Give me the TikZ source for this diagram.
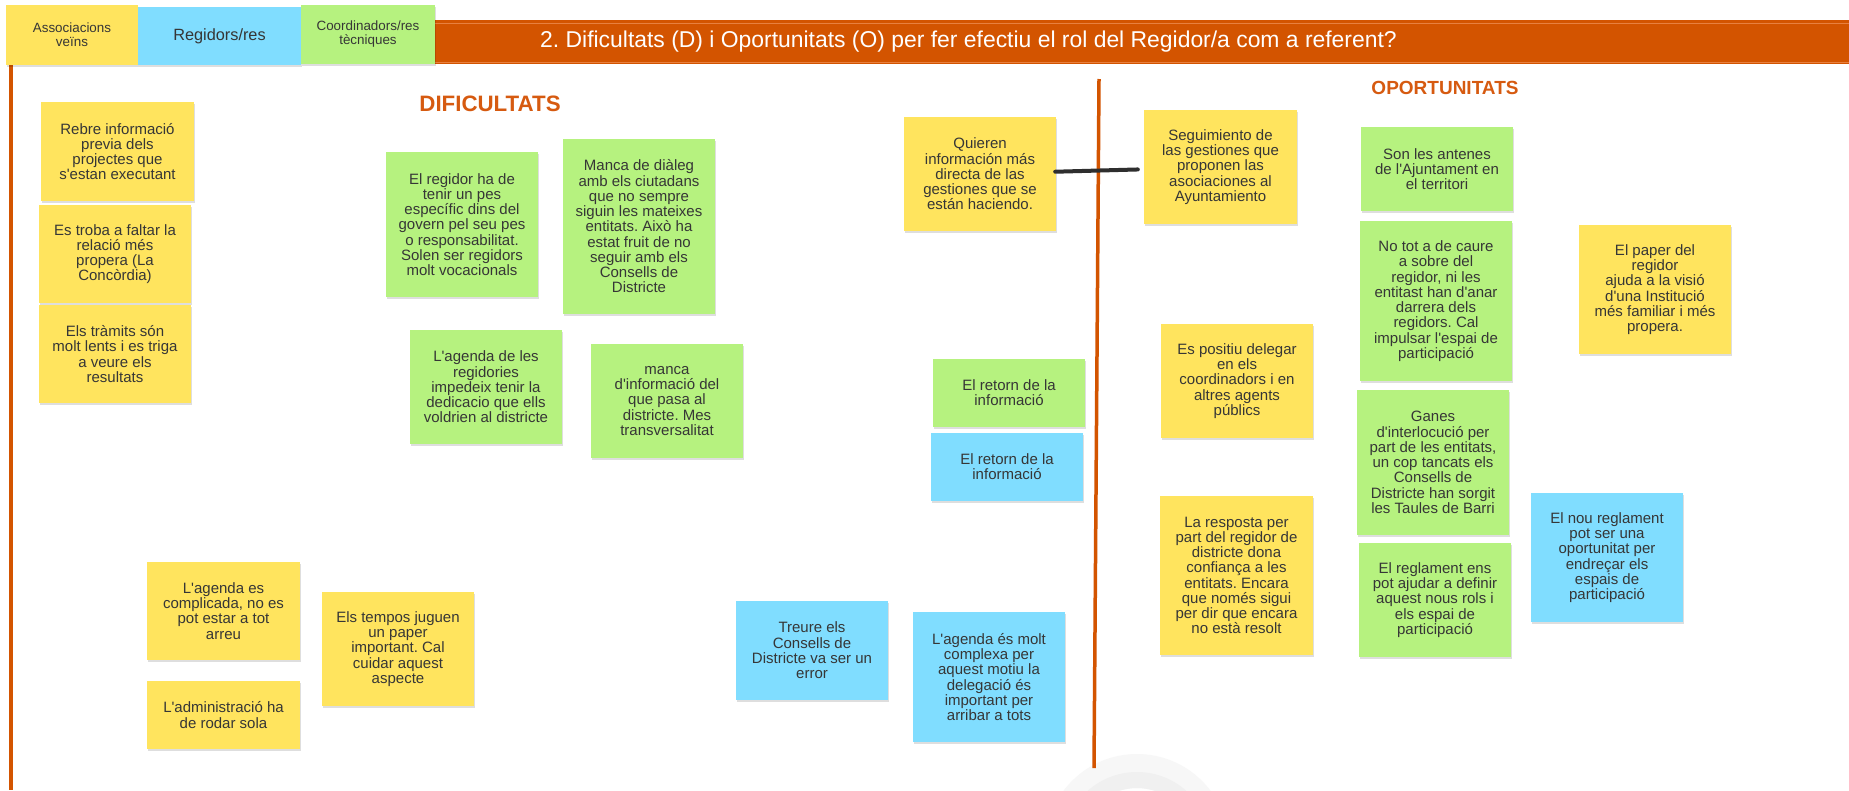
\documentclass[tikz,border=0pt]{standalone}
\usepackage{fontspec}
\setmainfont{Liberation Sans}
\usetikzlibrary{shadows,calc}
\definecolor{syellow}{HTML}{FFE45E}
\definecolor{sgreen}{HTML}{B6F27F}
\definecolor{sblue}{HTML}{80DDFF}
\definecolor{barorange}{HTML}{D35400}
\definecolor{barlight}{HTML}{E8803F}
\definecolor{titleorange}{HTML}{D65A10}
\definecolor{txt}{HTML}{363636}
\definecolor{connc}{HTML}{2E2E2E}
\newcommand{\ap}{\textquotesingle}
\tikzset{
  sticky/.style={inner sep=0pt, align=center, text=txt,
    font={\frenchspacing\fontsize{15}{15.25}\selectfont},
    drop shadow={shadow xshift=0.6pt, shadow yshift=-1.6pt, opacity=0.13, fill=black}},
  sz/.style 2 args={minimum width=#1pt, minimum height=#2pt},
  yel/.style={sticky, fill=syellow},
  grn/.style={sticky, fill=sgreen},
  blu/.style={sticky, fill=sblue},
  divider/.style={draw=barorange, line width=3.5pt},
  conn/.style={draw=connc, line width=4pt, line cap=round},
  heading/.style={text=titleorange, inner sep=0pt}
}
\begin{document}
\frenchspacing
\begin{tikzpicture}[x=1pt,y=-1pt]
\useasboundingbox (0,0) rectangle (1849,790);
\fill[white] (0,0) rectangle (1849,790);
% faint ring at the bottom
\begin{scope}
  \clip (0,0) rectangle (1849,790);
  \fill[black!3, even odd rule] (1137,846) circle[radius=92] (1137,846) circle[radius=58];
  \fill[black!6, even odd rule] (1137,846) circle[radius=74] (1137,846) circle[radius=58];
\end{scope}
% divider lines
\draw[divider] (11,65) -- (11,790);
\draw[divider] (1099,79) -- (1094,768);
% header bar
\fill[barorange] (435,20) rectangle (1849,63.5);
\draw[barlight, line width=0.8pt] (435,23.4) -- (1849,23.4);
\draw[barlight, line width=0.8pt] (435,62.6) -- (1849,62.6);
\node[text=white, inner sep=0pt, font={\fontsize{22.9}{26}\selectfont}] (title) at (968.5,42) {2. Dificultats (D) i Oportunitats (O) per fer efectiu el rol del Regidor/a com a referent?};
% header stickies
\node[yel, sz={132}{60}, font={\fontsize{13.4}{14}\selectfont}] (hassoc) at (72,35) {Associacions\\veïns};
\node[blu, sz={163}{58}, font={\fontsize{16.3}{18}\selectfont}] (hreg) at (219.5,36) {Regidors/res};
\node[grn, sz={134}{59}, font={\fontsize{13.4}{14}\selectfont}] (hcoord) at (368,34.5) {Coordinadors/res\\tècniques};
% headings
\node[heading, font={\bfseries\fontsize{22.3}{26}\selectfont}] (hdif) at (490,103.5) {DIFICULTATS};
\node[heading, font={\bfseries\fontsize{19}{22}\selectfont}] (hop) at (1445,88) {OPORTUNITATS};
% DIFICULTATS stickies
\node[yel, sz={153}{99}] (rebre) at (117.5,151.5) {Rebre informació\\previa dels\\projectes que\\s\ap estan executant};
\node[yel, sz={152}{98}] (troba) at (115,254) {Es troba a faltar la\\relació més\\propera (La\\Concòrdia)};
\node[yel, sz={152}{98}] (tramits) at (115,354) {Els tràmits són\\molt lents i es triga\\a veure els\\resultats};
\node[grn, sz={152}{145}] (regidor) at (462,224.5) {El regidor ha de\\tenir un pes\\específic dins del\\govern pel seu pes\\o responsabilitat.\\Solen ser regidors\\molt vocacionals};
\node[grn, sz={152}{175}] (manca) at (639,226.5) {Manca de diàleg\\amb els ciutadans\\que no sempre\\siguin les mateixes\\entitats. Això ha\\estat fruit de no\\seguir amb els\\Consells de\\Districte};
\node[grn, sz={152}{114}] (agendareg) at (486,387) {L\ap agenda de les\\regidories\\impedeix tenir la\\dedicacio que ells\\voldrien al districte};
\node[grn, sz={152}{114}] (mancainfo) at (667,401) {manca\\d\ap informació del\\que pasa al\\districte. Mes\\transversalitat};
\node[yel, sz={152}{114}] (quieren) at (980,174) {Quieren\\información más\\directa de las\\gestiones que se\\están haciendo.};
\node[grn, sz={152}{68}] (retornG) at (1009,393) {El retorn de la\\informació};
\node[blu, sz={152}{68}] (retornB) at (1007,467) {El retorn de la\\informació};
\node[yel, sz={153}{98}] (agendacomp) at (223.5,611) {L\ap agenda es\\complicada, no es\\pot estar a tot\\arreu};
\node[yel, sz={153}{68}] (admin) at (223.5,715) {L\ap administració ha\\de rodar sola};
\node[yel, sz={152}{114}] (tempos) at (398,649) {Els tempos juguen\\un paper\\important. Cal\\cuidar aquest\\aspecte};
\node[blu, sz={152}{99}] (treure) at (812,650.5) {Treure els\\Consells de\\Districte va ser un\\error};
\node[blu, sz={152}{130}] (agendamolt) at (989,677) {L\ap agenda és molt\\complexa per\\aquest motiu la\\delegació és\\important per\\arribar a tots};
% OPORTUNITATS stickies
\node[yel, sz={153}{114}] (segui) at (1220.5,167) {Seguimiento de\\las gestiones que\\proponen las\\asociaciones al\\Ayuntamiento};
\node[yel, sz={152}{114}] (positiu) at (1237,381) {Es positiu delegar\\en els\\coordinadors i en\\altres agents\\públics};
\node[yel, sz={153}{159}] (resposta) at (1236.5,575.5) {La resposta per\\part del regidor de\\districte dona\\confiança a les\\entitats. Encara\\que només sigui\\per dir que encara\\no està resolt};
\node[grn, sz={152}{84}] (antenes) at (1437,169) {Son les antenes\\de l\ap Ajuntament en\\el territori};
\node[grn, sz={152}{160}] (notot) at (1436,301) {No tot a de caure\\a sobre del\\regidor, ni les\\entitast han d\ap anar\\darrera dels\\regidors. Cal\\impulsar l\ap espai de\\participació};
\node[grn, sz={152}{145}] (ganes) at (1433,462.5) {Ganes\\d\ap interlocució per\\part de les entitats,\\un cop tancats els\\Consells de\\Districte han sorgit\\les Taules de Barri};
\node[grn, sz={152}{114}] (reglament) at (1435,600) {El reglament ens\\pot ajudar a definir\\aquest nous rols i\\els espai de\\participació};
\node[blu, sz={152}{129}] (nou) at (1607,557.5) {El nou reglament\\pot ser una\\oportunitat per\\endreçar els\\espais de\\participació};
\node[yel, sz={152}{129}] (paper) at (1655,289.5) {El paper del\\regidor\\ajuda a la visió\\d\ap una Institució\\més familiar i més\\propera.};
% connector
\draw[conn, shorten <=-1pt, shorten >=6pt] ([yshift=2.3pt]quieren.east) -- ([yshift=-2.3pt]segui.west);
\end{tikzpicture}
\end{document}
